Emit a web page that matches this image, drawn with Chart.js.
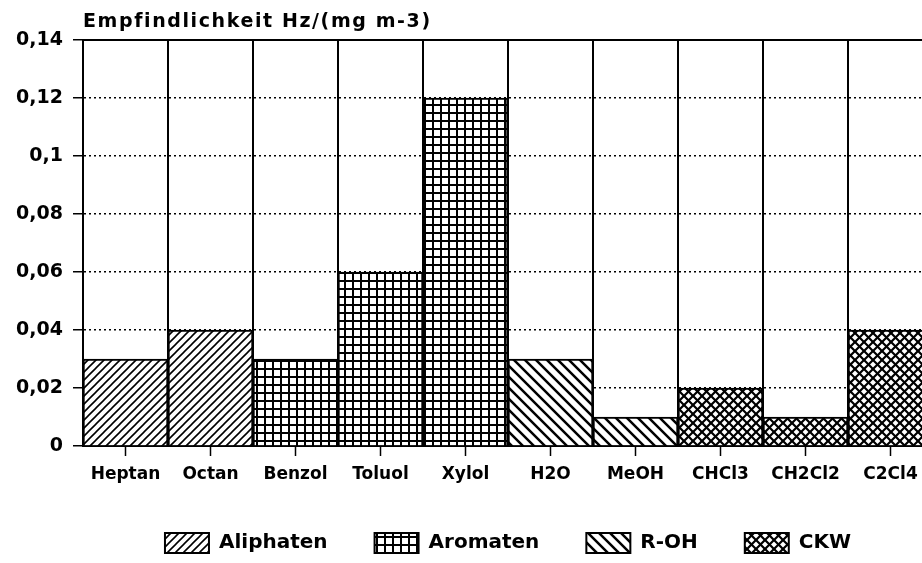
<!DOCTYPE html>
<html>
<head>
<meta charset="utf-8">
<script src="https://cdn.jsdelivr.net/npm/chart.js@4.4.1/dist/chart.umd.min.js"></script>
<style>
  html, body { margin: 0; padding: 0; background: #fff; overflow: hidden; }
  #wrap { width: 922px; height: 563px; overflow: hidden; }
  canvas { display: block; }
</style>
</head>
<body>
<div id="wrap"><canvas id="chart" width="998" height="563"></canvas></div>
<script>
// Data
const substances = ['Heptan', 'Octan', 'Benzol', 'Toluol', 'Xylol', 'H2O', 'MeOH', 'CHCl3', 'CH2Cl2', 'C2Cl4'];
const aliphaten = [0.03, 0.04, null, null, null, null, null, null, null, null];
const aromaten  = [null, null, 0.03, 0.06, 0.12, null, null, null, null, null];
const rOH       = [null, null, null, null, null, 0.03, 0.01, null, null, null];
const ckw       = [null, null, null, null, null, null, null, 0.02, 0.01, 0.04];
const yTickLabels = ['0', '0,02', '0,04', '0,06', '0,08', '0,1', '0,12', '0,14'];
const yTitle = 'Empfindlichkeit Hz/(mg m-3)';

const FONT = 'DejaVu Sans';

// hatch fills, like the old plotter patterns
function makePattern(size, draw) {
  const c = document.createElement('canvas');
  c.width = size;
  c.height = size;
  const g = c.getContext('2d');
  g.fillStyle = '#fff';
  g.fillRect(0, 0, size, size);
  g.strokeStyle = '#000';
  g.fillStyle = '#000';
  g.lineCap = 'square';
  draw(g, size);
  return g.createPattern(c, 'repeat');
}

function slashLines(g, s) {
  g.beginPath();
  g.moveTo(0, s); g.lineTo(s, 0);
  g.moveTo(-1, 1); g.lineTo(1, -1);
  g.moveTo(s - 1, s + 1); g.lineTo(s + 1, s - 1);
  g.stroke();
}
function backLines(g, s) {
  g.beginPath();
  g.moveTo(0, 0); g.lineTo(s, s);
  g.moveTo(-1, s - 1); g.lineTo(1, s + 1);
  g.moveTo(s - 1, -1); g.lineTo(s + 1, 1);
  g.stroke();
}

const slashFill = makePattern(8, (g, s) => { g.lineWidth = 1.6; slashLines(g, s); });
const gridFill = makePattern(8, (g, s) => { g.fillRect(0, 0, s, 2); g.fillRect(0, 0, 2, s); });
const backFill = makePattern(11, (g, s) => { g.lineWidth = 2.5; backLines(g, s); });
const crossFill = makePattern(9, (g, s) => { g.lineWidth = 2.2; slashLines(g, s); backLines(g, s); });

const titlePlugin = {
  id: 'leftTitle',
  afterDraw(chart) {
    const { ctx, chartArea } = chart;
    ctx.save();
    ctx.font = 'bold 19px "' + FONT + '"';
    ctx.letterSpacing = '1.6px';
    ctx.fillStyle = '#000';
    ctx.textBaseline = 'alphabetic';
    ctx.fillText(yTitle, chartArea.left, chartArea.top - 13);
    ctx.restore();
  }
};

const barStyle = {
  borderColor: '#000',
  borderWidth: 2,
  grouped: false,
  barPercentage: 1,
  categoryPercentage: 1
};

new Chart(document.getElementById('chart'), {
  type: 'bar',
  data: {
    labels: substances,
    datasets: [
      { label: 'Aliphaten', data: aliphaten, backgroundColor: slashFill, ...barStyle },
      { label: 'Aromaten', data: aromaten, backgroundColor: gridFill, ...barStyle },
      { label: 'R-OH', data: rOH, backgroundColor: backFill, ...barStyle },
      { label: 'CKW', data: ckw, backgroundColor: crossFill, ...barStyle }
    ]
  },
  options: {
    responsive: false,
    animation: false,
    layout: { padding: { left: 0, right: 65, top: 40, bottom: 0 } },
    scales: {
      x: {
        offset: true,
        afterFit(scale) { scale.height = 40; },
        grid: { offset: false, drawOnChartArea: false, tickLength: 10, tickColor: '#000', tickWidth: 1.5 },
        border: { color: '#000', width: 2 },
        ticks: {
          color: '#000', padding: 8, autoSkip: false, maxRotation: 0,
          font: { family: FONT, weight: 'bold', size: 17 }
        }
      },
      // category boundaries drawn as full height lines
      xb: {
        type: 'category',
        position: 'bottom',
        offset: true,
        afterFit(scale) { scale.height = 0; },
        grid: { offset: true, drawTicks: false, color: '#000', lineWidth: 2 },
        border: { display: false },
        ticks: { display: false }
      },
      // solid frame line at the top
      xt: {
        type: 'category',
        position: 'top',
        offset: true,
        afterFit(scale) { scale.height = 0; },
        grid: { display: false },
        border: { color: '#000', width: 2 },
        ticks: { display: false }
      },
      y: {
        min: 0,
        max: 0.14,
        afterFit(scale) { scale.width = 83; },
        grid: { color: '#000', lineWidth: 1.5, tickLength: 10, tickWidth: 1.5 },
        border: { color: '#000', width: 2, dash: [2, 3] },
        ticks: {
          stepSize: 0.02,
          padding: 10,
          color: '#000',
          font: { family: FONT, weight: 'bold', size: 19 },
          callback: (v, i) => yTickLabels[i]
        }
      }
    },
    plugins: {
      legend: {
        position: 'bottom',
        fullSize: false,
        labels: {
          boxWidth: 44,
          boxHeight: 20,
          padding: 47,
          color: '#000',
          font: { family: FONT, weight: 'bold', size: 20 }
        }
      },
      tooltip: { enabled: false }
    }
  },
  plugins: [titlePlugin]
});
</script>
</body>
</html>
